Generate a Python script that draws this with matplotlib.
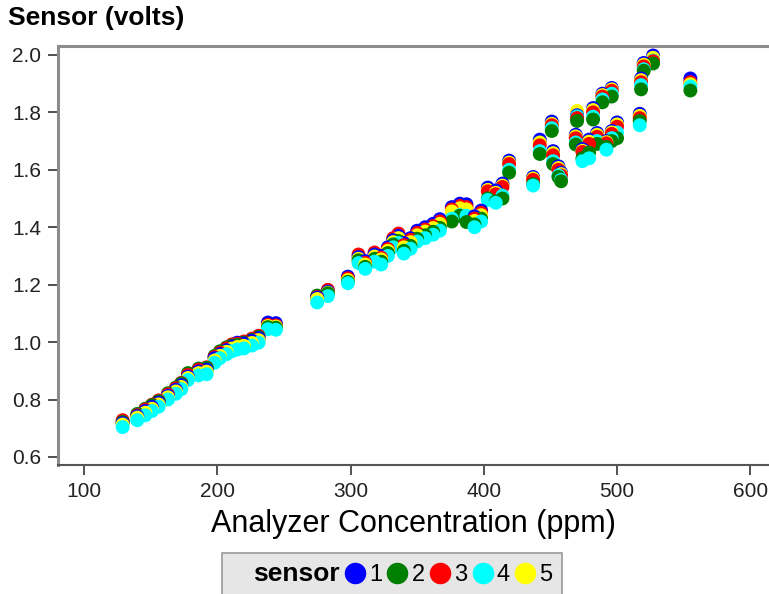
import numpy as np
import matplotlib.pyplot as plt
from matplotlib.lines import Line2D

plt.rcParams['font.family'] = ['Liberation Sans', 'DejaVu Sans']

# --- Data ---
conc = [129, 140, 146, 151, 156, 163, 169, 173, 178, 186,
        192, 198, 202, 207, 211, 215, 220, 226, 231, 238,
        244, 275, 283, 298, 306, 311, 318, 323, 328, 332,
        336, 340, 345, 350, 356, 362, 367, 376, 382, 387,
        393, 398, 403, 409, 414, 419, 437, 442, 451, 452,
        456, 458, 469, 470, 474, 479, 482, 485, 489, 492,
        496, 496, 500, 517, 518, 520, 527, 555]

sensor_1 = [.718, .742, .760, .774, .789, .813, .834, .850, .880, .898,
            .904, .944, .958, .972, .985, .998, .995, 1.005, 1.014, 1.068,
            1.066, 1.155, 1.176, 1.228, 1.296, 1.282, 1.305, 1.300, 1.330, 1.355,
            1.370, 1.345, 1.362, 1.388, 1.400, 1.412, 1.428, 1.470, 1.482, 1.480,
            1.438, 1.458, 1.538, 1.528, 1.552, 1.632, 1.575, 1.705, 1.768, 1.665,
            1.612, 1.590, 1.722, 1.790, 1.672, 1.705, 1.815, 1.728, 1.865, 1.700,
            1.735, 1.885, 1.765, 1.795, 1.918, 1.972, 1.998, 1.918]
sensor_2 = [.722, .750, .768, .780, .794, .822, .842, .856, .892, .908,
            .910, .952, .968, .982, .988, .990, .998, 1.008, 1.018, 1.052,
            1.050, 1.162, 1.170, 1.210, 1.285, 1.262, 1.290, 1.280, 1.310, 1.340,
            1.352, 1.318, 1.335, 1.360, 1.372, 1.384, 1.398, 1.420, 1.440, 1.418,
            1.410, 1.430, 1.500, 1.490, 1.500, 1.590, 1.550, 1.655, 1.735, 1.620,
            1.575, 1.560, 1.688, 1.770, 1.640, 1.660, 1.775, 1.690, 1.835, 1.680,
            1.700, 1.855, 1.710, 1.770, 1.880, 1.945, 1.970, 1.876]
sensor_3 = [.728, .745, .765, .782, .797, .818, .839, .858, .886, .904,
            .912, .948, .963, .978, .992, .994, 1.002, 1.012, 1.022, 1.060,
            1.058, 1.157, 1.182, 1.222, 1.305, 1.276, 1.312, 1.294, 1.324, 1.362,
            1.378, 1.338, 1.356, 1.380, 1.392, 1.404, 1.420, 1.462, 1.474, 1.470,
            1.430, 1.450, 1.525, 1.515, 1.540, 1.620, 1.565, 1.685, 1.755, 1.650,
            1.600, 1.580, 1.710, 1.780, 1.662, 1.690, 1.800, 1.715, 1.855, 1.692,
            1.725, 1.875, 1.750, 1.780, 1.905, 1.960, 1.978, 1.905]
sensor_4 = [.704, .728, .745, .760, .775, .800, .820, .836, .868, .884,
            .888, .928, .944, .958, .968, .974, .978, .988, .998, 1.045,
            1.043, 1.138, 1.160, 1.205, 1.275, 1.255, 1.280, 1.270, 1.300, 1.330,
            1.345, 1.308, 1.325, 1.350, 1.362, 1.374, 1.388, 1.430, 1.442, 1.440,
            1.400, 1.420, 1.495, 1.485, 1.510, 1.600, 1.545, 1.665, 1.745, 1.630,
            1.580, 1.565, 1.695, 1.786, 1.630, 1.640, 1.785, 1.700, 1.845, 1.670,
            1.710, 1.865, 1.730, 1.755, 1.895, 1.950, 1.980, 1.890]
sensor_5 = [.713, .737, .754, .768, .783, .808, .828, .844, .875, .892,
            .897, .936, .952, .966, .977, .983, .987, .997, 1.007, 1.056,
            1.054, 1.150, 1.172, 1.216, 1.290, 1.270, 1.298, 1.288, 1.318, 1.348,
            1.362, 1.330, 1.348, 1.372, 1.385, 1.397, 1.412, 1.455, 1.466, 1.462,
            1.422, 1.442, 1.530, 1.520, 1.545, 1.625, 1.570, 1.695, 1.760, 1.658,
            1.606, 1.585, 1.716, 1.805, 1.666, 1.698, 1.808, 1.722, 1.860, 1.696,
            1.730, 1.880, 1.758, 1.788, 1.912, 1.966, 1.990, 1.898]

sensor_names = ['1', '2', '3', '4', '5']
sensor_colors = ['#0000ff', '#007f00', '#ff0000', '#00ffff', '#ffff00']

# --- Figure ---
fig = plt.figure(figsize=(7.69, 5.94), dpi=100)
ax = fig.add_axes([58 / 769, 129 / 594, 711 / 769, 419 / 594])

# stack points from top to bottom so each lower marker covers the one above
xs, ys, cs = [], [], []
for vals, col in zip([sensor_1, sensor_2, sensor_3, sensor_4, sensor_5], sensor_colors):
    xs += conc
    ys += vals
    cs += [col] * len(vals)
order = np.argsort(-np.array(ys), kind='stable')
ax.scatter(np.array(xs)[order], np.array(ys)[order], c=np.array(cs)[order],
           s=100, linewidths=0)

ax.set_xlim(80.5, 614)
ax.set_ylim(0.572, 2.031)
ax.set_xticks([100, 200, 300, 400, 500, 600])
ax.set_yticks([0.6, 0.8, 1.0, 1.2, 1.4, 1.6, 1.8, 2.0])
ax.set_yticklabels(['0.6', '0.8', '1.0', '1.2', '1.4', '1.6', '1.8', '2.0'])
ax.tick_params(direction='out', length=7, width=1.2, color='#333333',
               labelsize=15, labelcolor='#222222', pad=5)

ax.spines['right'].set_visible(False)
ax.spines['left'].set_color('#8c8c8c')
ax.spines['left'].set_linewidth(2.2)
ax.spines['top'].set_color('#8c8c8c')
ax.spines['top'].set_linewidth(2.2)
ax.spines['bottom'].set_color('#555555')
ax.spines['bottom'].set_linewidth(1.5)

ax.set_xlabel('Analyzer Concentration (ppm)', fontsize=22, labelpad=6)
fig.text(8 / 769, 1 - 18 / 594, 'Sensor (volts)', fontsize=19, fontweight='bold',
         va='center', ha='left')

# legend with the bold "sensor" title inline
handles = [Line2D([], [], linestyle='none')]
for col in sensor_colors:
    handles.append(Line2D([], [], marker='o', linestyle='none', markersize=15.5,
                          markerfacecolor=col, markeredgewidth=0))
leg = fig.legend(handles, ['sensor'] + sensor_names, ncol=6, loc='upper center',
                 bbox_to_anchor=(392 / 769, 1 - 553 / 594), fontsize=17,
                 handlelength=0.6, handletextpad=0.3, columnspacing=0.35,
                 borderpad=0.4, borderaxespad=0, fancybox=False,
                 facecolor='#e6e6e6', edgecolor='#999999', framealpha=1)
leg.get_texts()[0].set_fontweight('bold')
leg.get_texts()[0].set_fontsize(19)
leg.get_frame().set_linewidth(1.2)

fig.savefig('out.png', dpi=100)
